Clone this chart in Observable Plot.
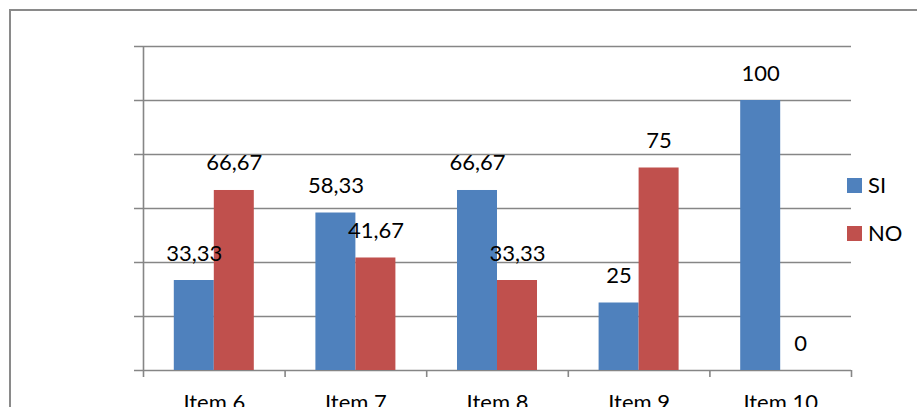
<!DOCTYPE html>
<html>
<head>
<meta charset="utf-8">
<script src="https://cdn.jsdelivr.net/npm/d3@7"></script>
<script src="https://cdn.jsdelivr.net/npm/@observablehq/plot@0.6"></script>
<style>
html, body { margin: 0; padding: 0; overflow: hidden; background: #fff; width: 917px; height: 407px; }
#wrap { position: relative; width: 917px; height: 407px; overflow: hidden; font-family: Lato, "Open Sans", sans-serif; }
#border { position: absolute; left: 9px; top: 9px; width: 1000px; height: 500px; border: 2px solid #8a8a8a; box-sizing: border-box; pointer-events: none; }
.lg-sw { position: absolute; width: 15px; height: 15px; }
.lg-tx { position: absolute; font-size: 22px; line-height: 22px; color: #000; white-space: nowrap; }
</style>
</head>
<body>
<div id="wrap"></div>
<script>
// ---- data ----
const items = ["Item 6", "Item 7", "Item 8", "Item 9", "Item 10"];
const seriesNames = ["SI", "NO"];
const siValues = [33.33, 58.33, 66.67, 25, 100];
const noValues = [66.67, 41.67, 33.33, 75, 0];
const seriesColors = ["#4F81BD", "#C0504D"];
const yTicks = [0, 20, 40, 60, 80, 100, 120];

// ---- table ----
const rows = items.flatMap((item, i) => [
  {item, i, series: seriesNames[0], value: siValues[i]},
  {item, i, series: seriesNames[1], value: noValues[i]}
]);

const barW = 0.2825; // bar width as a fraction of one category
const gray = "#868686";
const fmt = v => String(v).replace(".", ",");
const left = d => d.i + 0.5 + (d.series === seriesNames[0] ? -barW : 0);

const chart = Plot.plot({
  width: 917,
  height: 407,
  marginLeft: 143,
  marginRight: 66,
  marginTop: 46,
  marginBottom: 37,
  style: {fontFamily: "Lato, 'Open Sans', sans-serif", fontSize: "22px", color: "#000", background: "transparent", overflow: "visible"},
  x: {type: "linear", domain: [0, items.length], axis: null},
  y: {domain: [0, 120], axis: null},
  color: {domain: seriesNames, range: seriesColors},
  marks: [
    Plot.ruleY(yTicks, {x1: 0, x2: items.length, insetLeft: -9, stroke: gray, strokeWidth: 1.6}),
    Plot.ruleX([0], {stroke: gray, strokeWidth: 1.6}),
    Plot.axisX({ticks: d3.range(items.length + 1), tickSize: 7, tickFormat: () => "", stroke: gray, strokeWidth: 1.6}),
    Plot.axisX({ticks: items.map((_, i) => i + 0.5), tickSize: 0, tickPadding: 24, tickFormat: v => items[Math.floor(v)], fontSize: 22, fill: "#000"}),
    Plot.rectY(rows, {x1: left, x2: d => left(d) + barW, y1: 0, y2: "value", fill: "series"}),
    Plot.text(rows, {x: d => left(d) + barW / 2, y: "value", text: d => fmt(d.value), lineAnchor: "bottom", dy: -20, fontSize: 22, fill: "#000"})
  ]
});

const wrap = document.getElementById("wrap");
wrap.appendChild(chart);

// legend
seriesNames.forEach((name, k) => {
  const sw = document.createElement("div");
  sw.className = "lg-sw";
  sw.style.left = "847px";
  sw.style.top = (178 + k * 48) + "px";
  sw.style.background = seriesColors[k];
  wrap.appendChild(sw);
  const tx = document.createElement("div");
  tx.className = "lg-tx";
  tx.style.left = "868px";
  tx.style.top = (174 + k * 48) + "px";
  tx.textContent = name;
  wrap.appendChild(tx);
});

const border = document.createElement("div");
border.id = "border";
wrap.appendChild(border);
</script>
</body>
</html>
